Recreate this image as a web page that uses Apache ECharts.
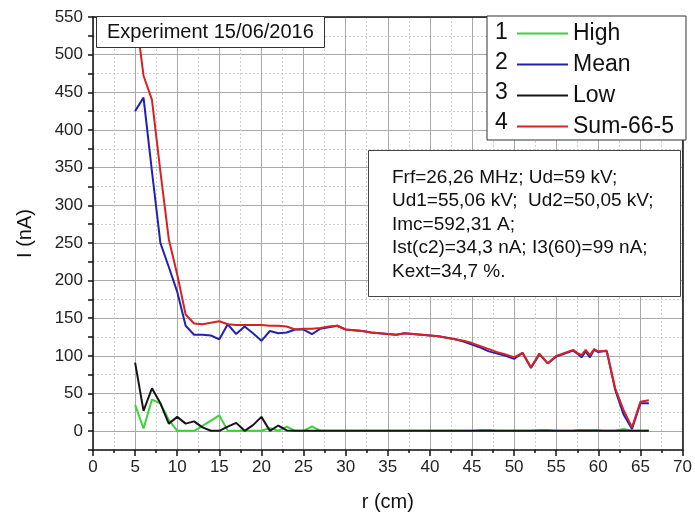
<!DOCTYPE html>
<html>
<head>
<meta charset="utf-8">
<script src="https://cdn.jsdelivr.net/npm/echarts@6/dist/echarts.min.js"></script>
<style>html,body{margin:0;padding:0;background:#fff}#c{width:695px;height:524px}</style>
</head>
<body>
<div id="c"></div>
<script>
// r (cm)
var r = [5,6,7,8,9,10,11,12,13,14,15,16,17,18,19,20,21,22,23,24,25,26,27,28,29,30,
  31,32,33,34,35,36,37,38,39,40,41,42,43,44,45,46,47,48,49,50,51,52,53,54,55,56,
  57,57.5,58,58.5,59,59.5,60,60.5,61,62,63,64,65,66];
// 1 High (nA)
var high = [35,3.5,42,37,15,0.5,0.5,0.5,7,14,21,0.5,0.5,0.5,0.5,0.5,4,0.5,6,0.5,0.5,6.5,0.5,0.5,0.5,0.5,
  0.5,0.5,0.5,0.5,0.5,0.5,0.5,0.5,0.5,0.5,0.5,0.5,0.5,0.5,0.5,1.5,1.5,0.5,0.5,0.5,0.5,0.5,1.5,1.5,0.5,0.5,
  0.5,1.5,1.5,1.5,1.5,1.5,1.5,0.5,0.5,0.5,3,0.5,0.5,0.5];
// 2 Mean (nA)
var mean = [425,443,345,250,218,185,140,128,128,127,122,142,129,139,130,120,133,130,131,135,135,129,136,138,140,135,
  134,133,131,130,129,128,130,129,128,127,126,124,122,119,115,111,106,103,100,96,104,84,102,90,99,103,
  107,103,98,106,98,108,105,106,106,55,22,3,37,37];
// 3 Low (nA)
var low = [91,27,57,37,10,19,10,13,5,0.5,0.5,6,11,0.5,8,19,0.5,7.5,1,0.5,0.5,0.5,0.5,0.5,0.5,0.5,
  0.5,0.5,0.5,0.5,0.5,0.5,0.5,0.5,0.5,0.5,0.5,0.5,0.5,0.5,0.5,0.5,0.5,0.5,0.5,0.5,0.5,0.5,0.5,0.5,0.5,0.5,
  0.5,0.5,0.5,0.5,0.5,0.5,0.5,0.5,0.5,0.5,0.5,0.5,0.5,0.5];
// 4 Sum-66-5 (nA)
var sum = [560,472,440,345,255,208,155,143,142,144,146,142,141,141,141,141,140,140,139,135,136,136,137,139,140,135,
  134,133,131,130,129,128,130,129,128,127,126,124,122,120,117,113,109,105,102,98,104,85,103,90,100,104,
  108,104,101,108,101,109,106,106,107,57,28,5,39,41];

var seriesNames = ['High','Mean','Low','Sum-66-5'];
var seriesNums = ['1','2','3','4'];
var seriesColors = ['#3cd23c','#2222b0','#151515','#d82222'];
var seriesData = [high, mean, low, sum];
var infoLines = ['Frf=26,26 MHz; Ud=59 kV;','Ud1=55,06 kV;  Ud2=50,05 kV;','Imc=592,31 A;','Ist(c2)=34,3 nA; I3(60)=99 nA;','Kext=34,7 %.'];
var titleText = 'Experiment 15/06/2016';

var FONT = '"Liberation Sans", Arial, sans-serif';
function pairs(ys){ return r.map(function(x,i){ return [x, ys[i]]; }); }

var chart = echarts.init(document.getElementById('c'), null, {renderer:'canvas'});
var gridCol = '#a8a8a8', minorCol = '#cfcfcf';

var series = seriesNames.map(function(n,i){
  return {
    name:n, type:'line', data:pairs(seriesData[i]), xAxisIndex:0, yAxisIndex:0,
    showSymbol:false, symbol:'none', clip:true,
    lineStyle:{color:seriesColors[i], width:2}, itemStyle:{color:seriesColors[i]},
    z: 2 + i
  };
});

var graphics = [];
seriesNums.forEach(function(t,i){
  graphics.push({type:'text', left:495, top:33 + i*30 - 12, z:100,
    style:{text:t, font:'23px '+FONT, fill:'#111'}});
});
graphics.push({type:'rect', left:368, top:150, z:90, shape:{x:0,y:0,width:312,height:146},
  style:{fill:'#fff', stroke:'#444', lineWidth:1}});
graphics.push({type:'text', left:392, top:166, z:91,
  style:{text:infoLines.join('\n'), font:'19px '+FONT, lineHeight:23.4, fill:'#111'}});

chart.setOption({
  animation:false,
  backgroundColor:'#fff',
  title:{text:titleText, left:96, top:16, padding:[5,11,5,11], borderWidth:1, borderColor:'#333',
    backgroundColor:'#fff', textStyle:{fontFamily:FONT, fontSize:20, fontWeight:'normal', color:'#111', lineHeight:22}},
  legend:{data:seriesNames, orient:'vertical', left:487, top:16, padding:[6,12,2,30],
    itemWidth:51, itemHeight:2, itemGap:8, icon:'rect', backgroundColor:'#fff', borderColor:'#333', borderWidth:1,
    textStyle:{fontFamily:FONT, fontSize:23, color:'#111', lineHeight:22}, selectedMode:false},
  grid:{left:93, right:12, top:17, bottom:74, containLabel:false},
  xAxis:[{
    type:'value', min:0, max:70, interval:5, position:'bottom',
    name:'r (cm)', nameLocation:'middle', nameGap:42,
    nameTextStyle:{fontFamily:FONT, fontSize:20, color:'#111'},
    axisLine:{onZero:false, lineStyle:{color:'#111', width:1.5}},
    axisTick:{show:true, inside:false, length:6, lineStyle:{color:'#111', width:1.5}},
    minorTick:{show:true, splitNumber:2, length:3, lineStyle:{color:'#111', width:1.5}},
    axisLabel:{fontFamily:FONT, fontSize:17, color:'#222', margin:9},
    splitLine:{show:true, lineStyle:{color:gridCol, width:1}},
    minorSplitLine:{show:true, lineStyle:{color:minorCol, width:1, type:[2,2]}}
  },{
    type:'value', min:0, max:70, position:'top',
    axisLine:{onZero:false, lineStyle:{color:'#111', width:1.5}},
    axisTick:{show:false}, axisLabel:{show:false}, splitLine:{show:false}
  }],
  yAxis:[{
    type:'value', min:-25, max:550, interval:25, position:'left',
    name:'I (nA)', nameLocation:'middle', nameGap:58, nameRotate:90,
    nameTextStyle:{fontFamily:FONT, fontSize:20, color:'#111'},
    axisLine:{onZero:false, lineStyle:{color:'#111', width:1.5}},
    axisTick:{show:true, inside:false, length:5, lineStyle:{color:'#111', width:1.5}},
    axisLabel:{fontFamily:FONT, fontSize:17, color:'#222', margin:10,
      formatter:function(v){ return (v>=0 && v%50===0) ? String(v) : ''; }},
    splitLine:{show:true, lineStyle:{color:['rgba(0,0,0,0)', gridCol], width:1}}
  },{
    type:'value', min:-25, max:550, interval:25, position:'left',
    axisLine:{show:false}, axisTick:{show:false}, axisLabel:{show:false},
    splitLine:{show:true, lineStyle:{color:[minorCol,'rgba(0,0,0,0)'], width:1, type:[2,2]}}
  },{
    type:'value', min:-25, max:550, position:'right',
    axisLine:{show:true, onZero:false, lineStyle:{color:'#111', width:1.5}},
    axisTick:{show:false}, axisLabel:{show:false}, splitLine:{show:false}
  }],
  series:series,
  graphic:graphics
});
</script>
</body>
</html>
